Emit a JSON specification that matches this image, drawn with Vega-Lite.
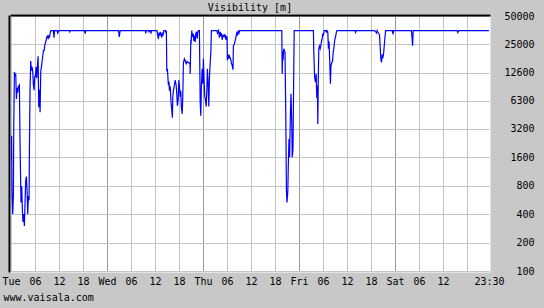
{
  "$schema": "https://vega.github.io/schema/vega-lite/v6.json",
  "width": 478,
  "height": 255,
  "autosize": "none",
  "padding": {"left": 11, "top": 16, "right": 55, "bottom": 37},
  "background": "#c8c8c8",
  "title": {"text": "Visibility [m]", "font": "DejaVu Sans Mono", "fontSize": 10, "fontWeight": "normal", "color": "black", "anchor": "middle", "frame": "group", "offset": 3.5, "baseline": "alphabetic", "dy": 13.5},
  "config": {"view": {"fill": "white", "stroke": "white", "strokeWidth": 3}, "font": "DejaVu Sans Mono"},
  "data": {"values": [
    {"hour": 0, "vis": 1950}, {"hour": 0.05, "vis": 1450}, {"hour": 0.15, "vis": 2700}, {"hour": 0.2, "vis": 1600}, {"hour": 0.25, "vis": 680}, {"hour": 0.43, "vis": 400}, {"hour": 0.6, "vis": 640}, {"hour": 0.68, "vis": 3100}, {"hour": 0.85, "vis": 12800}, {"hour": 1.0, "vis": 11800}, {"hour": 1.18, "vis": 12300}, {"hour": 1.35, "vis": 6600}, {"hour": 1.51, "vis": 8700}, {"hour": 1.68, "vis": 7700}, {"hour": 1.85, "vis": 9000}, {"hour": 2.1, "vis": 9300}, {"hour": 2.26, "vis": 2250}, {"hour": 2.5, "vis": 530}, {"hour": 2.68, "vis": 790}, {"hour": 2.85, "vis": 440}, {"hour": 3.0, "vis": 330}, {"hour": 3.18, "vis": 400}, {"hour": 3.35, "vis": 300}, {"hour": 3.51, "vis": 530}, {"hour": 3.68, "vis": 910}, {"hour": 3.85, "vis": 1000}, {"hour": 4.02, "vis": 710}, {"hour": 4.18, "vis": 400}, {"hour": 4.35, "vis": 620}, {"hour": 4.52, "vis": 560}, {"hour": 4.6, "vis": 1860}, {"hour": 4.77, "vis": 9000}, {"hour": 4.93, "vis": 16700}, {"hour": 5.1, "vis": 13200}, {"hour": 5.27, "vis": 14500}, {"hour": 5.44, "vis": 12800}, {"hour": 5.6, "vis": 9300}, {"hour": 5.77, "vis": 8200}, {"hour": 5.94, "vis": 11500}, {"hour": 6.1, "vis": 11500}, {"hour": 6.27, "vis": 14400}, {"hour": 6.44, "vis": 11000}, {"hour": 6.61, "vis": 15000}, {"hour": 6.77, "vis": 18700}, {"hour": 6.94, "vis": 5400}, {"hour": 7.11, "vis": 8300}, {"hour": 7.27, "vis": 4800}, {"hour": 7.44, "vis": 13000}, {"hour": 7.61, "vis": 14500}, {"hour": 7.78, "vis": 16500}, {"hour": 7.94, "vis": 19000}, {"hour": 8.11, "vis": 21500}, {"hour": 8.28, "vis": 21500}, {"hour": 8.44, "vis": 24500}, {"hour": 8.61, "vis": 26000}, {"hour": 8.78, "vis": 27500}, {"hour": 8.94, "vis": 30000}, {"hour": 9.11, "vis": 30700}, {"hour": 9.28, "vis": 29000}, {"hour": 9.45, "vis": 30700}, {"hour": 9.61, "vis": 30000}, {"hour": 9.78, "vis": 32500}, {"hour": 9.95, "vis": 35000},
    {"hour": 10.6, "vis": 35000}, {"hour": 10.75, "vis": 29400}, {"hour": 10.9, "vis": 35000}, {"hour": 11.5, "vis": 35000}, {"hour": 11.7, "vis": 33000}, {"hour": 11.9, "vis": 35000}, {"hour": 14.6, "vis": 35000}, {"hour": 14.7, "vis": 34000}, {"hour": 14.8, "vis": 35000}, {"hour": 18.4, "vis": 35000}, {"hour": 18.55, "vis": 32500}, {"hour": 18.7, "vis": 35000}, {"hour": 26.9, "vis": 35000}, {"hour": 27.05, "vis": 30000}, {"hour": 27.15, "vis": 32000}, {"hour": 27.3, "vis": 35000},
    {"hour": 33.6, "vis": 35000}, {"hour": 33.7, "vis": 32800}, {"hour": 33.8, "vis": 35000}, {"hour": 34.4, "vis": 35000}, {"hour": 34.5, "vis": 33500}, {"hour": 34.6, "vis": 35000}, {"hour": 34.9, "vis": 35000}, {"hour": 35.0, "vis": 32500}, {"hour": 35.1, "vis": 35000},
    {"hour": 36.5, "vis": 35000}, {"hour": 36.7, "vis": 31000}, {"hour": 36.85, "vis": 28500}, {"hour": 37.0, "vis": 33300}, {"hour": 37.2, "vis": 31000}, {"hour": 37.35, "vis": 34000}, {"hour": 37.5, "vis": 31500}, {"hour": 37.7, "vis": 29500}, {"hour": 37.85, "vis": 33300}, {"hour": 38.0, "vis": 31000}, {"hour": 38.2, "vis": 35000}, {"hour": 38.6, "vis": 35000}, {"hour": 38.75, "vis": 33000}, {"hour": 38.85, "vis": 35000},
    {"hour": 38.95, "vis": 13000}, {"hour": 39.1, "vis": 13800}, {"hour": 39.35, "vis": 9200}, {"hour": 39.5, "vis": 10100}, {"hour": 39.6, "vis": 8100}, {"hour": 39.8, "vis": 9000}, {"hour": 40.0, "vis": 6200}, {"hour": 40.2, "vis": 5000}, {"hour": 40.35, "vis": 4200}, {"hour": 40.45, "vis": 7000}, {"hour": 40.6, "vis": 8100}, {"hour": 40.85, "vis": 9200}, {"hour": 41.05, "vis": 10500}, {"hour": 41.3, "vis": 9200}, {"hour": 41.45, "vis": 7500}, {"hour": 41.6, "vis": 5600}, {"hour": 41.8, "vis": 6500}, {"hour": 41.95, "vis": 10500}, {"hour": 42.1, "vis": 9000}, {"hour": 42.3, "vis": 7000}, {"hour": 42.45, "vis": 8100}, {"hour": 42.6, "vis": 5400}, {"hour": 42.8, "vis": 4600}, {"hour": 42.95, "vis": 7000}, {"hour": 43.1, "vis": 16000}, {"hour": 43.35, "vis": 17600}, {"hour": 43.55, "vis": 16900}, {"hour": 43.7, "vis": 16000}, {"hour": 43.85, "vis": 15600}, {"hour": 44.0, "vis": 16500}, {"hour": 44.6, "vis": 15800}, {"hour": 44.75, "vis": 16000}, {"hour": 44.8, "vis": 12200},
    {"hour": 44.95, "vis": 27000}, {"hour": 45.04, "vis": 26600}, {"hour": 45.2, "vis": 35000}, {"hour": 45.37, "vis": 30000}, {"hour": 45.54, "vis": 32500}, {"hour": 45.7, "vis": 27300}, {"hour": 45.87, "vis": 31000}, {"hour": 46.04, "vis": 26600}, {"hour": 46.2, "vis": 32500}, {"hour": 46.37, "vis": 34000}, {"hour": 46.54, "vis": 28700}, {"hour": 46.7, "vis": 34000}, {"hour": 46.87, "vis": 35000}, {"hour": 47.1, "vis": 35000},
    {"hour": 47.3, "vis": 6100}, {"hour": 47.45, "vis": 4400}, {"hour": 47.6, "vis": 9200}, {"hour": 47.8, "vis": 13800}, {"hour": 47.97, "vis": 9600}, {"hour": 48.1, "vis": 17600}, {"hour": 48.3, "vis": 9600}, {"hour": 48.45, "vis": 7000}, {"hour": 48.6, "vis": 6600}, {"hour": 48.8, "vis": 5500}, {"hour": 48.97, "vis": 8500}, {"hour": 49.1, "vis": 13800}, {"hour": 49.3, "vis": 9200}, {"hour": 49.45, "vis": 5500}, {"hour": 49.6, "vis": 10800}, {"hour": 49.8, "vis": 16000}, {"hour": 49.97, "vis": 21000}, {"hour": 50.1, "vis": 35000},
    {"hour": 51.5, "vis": 35000}, {"hour": 51.6, "vis": 33000}, {"hour": 51.9, "vis": 35000}, {"hour": 52.1, "vis": 29400}, {"hour": 52.3, "vis": 34000}, {"hour": 52.5, "vis": 30500}, {"hour": 52.6, "vis": 33000}, {"hour": 52.8, "vis": 28000}, {"hour": 53.0, "vis": 31600}, {"hour": 53.1, "vis": 30500}, {"hour": 53.3, "vis": 31600}, {"hour": 53.5, "vis": 30000}, {"hour": 53.6, "vis": 31600}, {"hour": 53.8, "vis": 28000}, {"hour": 54.0, "vis": 30500}, {"hour": 54.1, "vis": 17000}, {"hour": 54.3, "vis": 19500}, {"hour": 54.5, "vis": 17700}, {"hour": 54.6, "vis": 18800}, {"hour": 54.8, "vis": 18000}, {"hour": 55.0, "vis": 17000}, {"hour": 55.1, "vis": 15800}, {"hour": 55.3, "vis": 15000}, {"hour": 55.5, "vis": 13500}, {"hour": 55.6, "vis": 24200}, {"hour": 55.8, "vis": 25000}, {"hour": 56.0, "vis": 27000}, {"hour": 56.1, "vis": 28000}, {"hour": 56.3, "vis": 31000}, {"hour": 56.5, "vis": 34000}, {"hour": 56.6, "vis": 31000}, {"hour": 56.8, "vis": 35000}, {"hour": 57.0, "vis": 33000}, {"hour": 57.15, "vis": 35000},
    {"hour": 67.7, "vis": 35000}, {"hour": 67.8, "vis": 12200}, {"hour": 67.9, "vis": 21000}, {"hour": 68.0, "vis": 16900}, {"hour": 68.2, "vis": 22500}, {"hour": 68.5, "vis": 20600}, {"hour": 68.7, "vis": 4400}, {"hour": 68.85, "vis": 730}, {"hour": 69.0, "vis": 530}, {"hour": 69.2, "vis": 690}, {"hour": 69.3, "vis": 1150}, {"hour": 69.5, "vis": 2490}, {"hour": 69.65, "vis": 1600}, {"hour": 69.85, "vis": 4600}, {"hour": 70.0, "vis": 7500}, {"hour": 70.2, "vis": 3450}, {"hour": 70.3, "vis": 1600}, {"hour": 70.5, "vis": 1950}, {"hour": 70.65, "vis": 9200}, {"hour": 70.8, "vis": 35000},
    {"hour": 75.6, "vis": 35000}, {"hour": 75.7, "vis": 21000}, {"hour": 75.9, "vis": 11300}, {"hour": 76.1, "vis": 10000}, {"hour": 76.3, "vis": 12200}, {"hour": 76.45, "vis": 6800}, {"hour": 76.6, "vis": 9200}, {"hour": 76.7, "vis": 3600}, {"hour": 76.8, "vis": 9200}, {"hour": 76.95, "vis": 22500}, {"hour": 77.1, "vis": 24000}, {"hour": 77.3, "vis": 22500}, {"hour": 77.45, "vis": 24000}, {"hour": 77.6, "vis": 26600}, {"hour": 77.8, "vis": 29000}, {"hour": 77.95, "vis": 32500}, {"hour": 78.1, "vis": 31000}, {"hour": 78.3, "vis": 35000},
    {"hour": 78.75, "vis": 35000}, {"hour": 78.85, "vis": 33300}, {"hour": 79.0, "vis": 35000}, {"hour": 79.2, "vis": 34000}, {"hour": 79.35, "vis": 22500}, {"hour": 79.5, "vis": 27000}, {"hour": 79.7, "vis": 16000}, {"hour": 79.85, "vis": 9600}, {"hour": 80.0, "vis": 14900}, {"hour": 80.2, "vis": 16000}, {"hour": 80.4, "vis": 16900}, {"hour": 80.55, "vis": 20600}, {"hour": 80.7, "vis": 22500}, {"hour": 80.9, "vis": 27000}, {"hour": 81.0, "vis": 28700}, {"hour": 81.2, "vis": 31000}, {"hour": 81.35, "vis": 34000}, {"hour": 81.5, "vis": 35000},
    {"hour": 86.0, "vis": 35000}, {"hour": 86.15, "vis": 33500}, {"hour": 86.3, "vis": 35000},
    {"hour": 90.9, "vis": 35000}, {"hour": 91.2, "vis": 34000}, {"hour": 91.4, "vis": 33000}, {"hour": 91.55, "vis": 35000}, {"hour": 91.65, "vis": 34000}, {"hour": 92.0, "vis": 32500}, {"hour": 92.15, "vis": 31000}, {"hour": 92.3, "vis": 23000}, {"hour": 92.5, "vis": 17000}, {"hour": 92.65, "vis": 16200}, {"hour": 92.8, "vis": 19500}, {"hour": 93.0, "vis": 18500}, {"hour": 93.15, "vis": 20000}, {"hour": 93.3, "vis": 24000}, {"hour": 93.5, "vis": 30000}, {"hour": 93.65, "vis": 35000},
    {"hour": 95.35, "vis": 35000}, {"hour": 95.5, "vis": 32000}, {"hour": 95.65, "vis": 35000}, {"hour": 100.1, "vis": 35000}, {"hour": 100.25, "vis": 30000}, {"hour": 100.4, "vis": 24300}, {"hour": 100.55, "vis": 35000}, {"hour": 111.5, "vis": 35000}, {"hour": 111.7, "vis": 33500}, {"hour": 111.9, "vis": 35000}, {"hour": 119.5, "vis": 35000}
  ]},
  "layer": [
    {
      "mark": {"type": "line", "color": "#0000ff", "strokeWidth": 1.2, "clip": true},
      "encoding": {
        "x": {"field": "hour", "type": "quantitative", "scale": {"domain": [0, 119.5], "nice": false, "zero": false},
          "axis": {"orient": "bottom", "values": [0, 6, 12, 18, 24, 30, 36, 42, 48, 54, 60, 66, 72, 78, 84, 90, 96, 102, 108, 114, 119.5],
            "labelExpr": "datum.value == 119.5 ? '23:30' : datum.value == 114 ? '' : datum.value % 24 == 0 ? ['Tue','Wed','Thu','Fri','Sat'][datum.value / 24] : (datum.value % 24 == 6 ? '06' : toString(datum.value % 24))",
            "domain": false, "ticks": false, "tickSize": 0, "labelPadding": 13, "labelBaseline": "alphabetic", "labelFlush": false, "labelOverlap": false,
            "labelFont": "DejaVu Sans Mono", "labelFontSize": 10, "labelColor": "black",
            "grid": true, "gridWidth": 1,
            "gridColor": {"condition": {"test": "datum.value % 24 == 0 && datum.value > 0", "value": "#9a9a9a"}, "value": "#c4c4c4"},
            "gridOpacity": {"condition": {"test": "datum.value > 119", "value": 0}, "value": 1},
            "title": "www.vaisala.com", "titleFont": "DejaVu Sans Mono", "titleFontSize": 10, "titleFontWeight": "normal", "titleColor": "black",
            "titleAnchor": "start", "titleAlign": "left", "titleX": -8, "titleY": 29, "titleBaseline": "alphabetic"}},
        "y": {"field": "vis", "type": "quantitative", "scale": {"type": "log", "domain": [100, 50000], "nice": false},
          "axis": {"orient": "right", "values": [100, 200, 400, 800, 1600, 3200, 6300, 12600, 25000, 50000], "format": "d",
            "domain": false, "ticks": false, "tickSize": 0, "labelPadding": 45, "labelAlign": "right", "labelBaseline": "middle", "labelFlush": false, "labelOverlap": false,
            "labelFont": "DejaVu Sans Mono", "labelFontSize": 10, "labelColor": "black",
            "grid": true, "gridColor": "#c4c4c4", "gridWidth": 1, "title": null}}
      }
    },
    {
      "mark": {"type": "line", "strokeOpacity": 0},
      "encoding": {
        "x": {"field": "hour", "type": "quantitative", "axis": {"orient": "top", "domain": true, "domainColor": "black", "domainWidth": 2, "domainCap": "square", "offset": 1, "labels": false, "ticks": false, "grid": false, "title": null}},
        "y": {"field": "vis", "type": "quantitative", "axis": {"orient": "left", "domain": true, "domainColor": "black", "domainWidth": 2, "domainCap": "square", "offset": 2, "labels": false, "ticks": false, "grid": false, "title": null}}
      }
    }
  ],
  "resolve": {"axis": {"x": "independent", "y": "independent"}}
}
